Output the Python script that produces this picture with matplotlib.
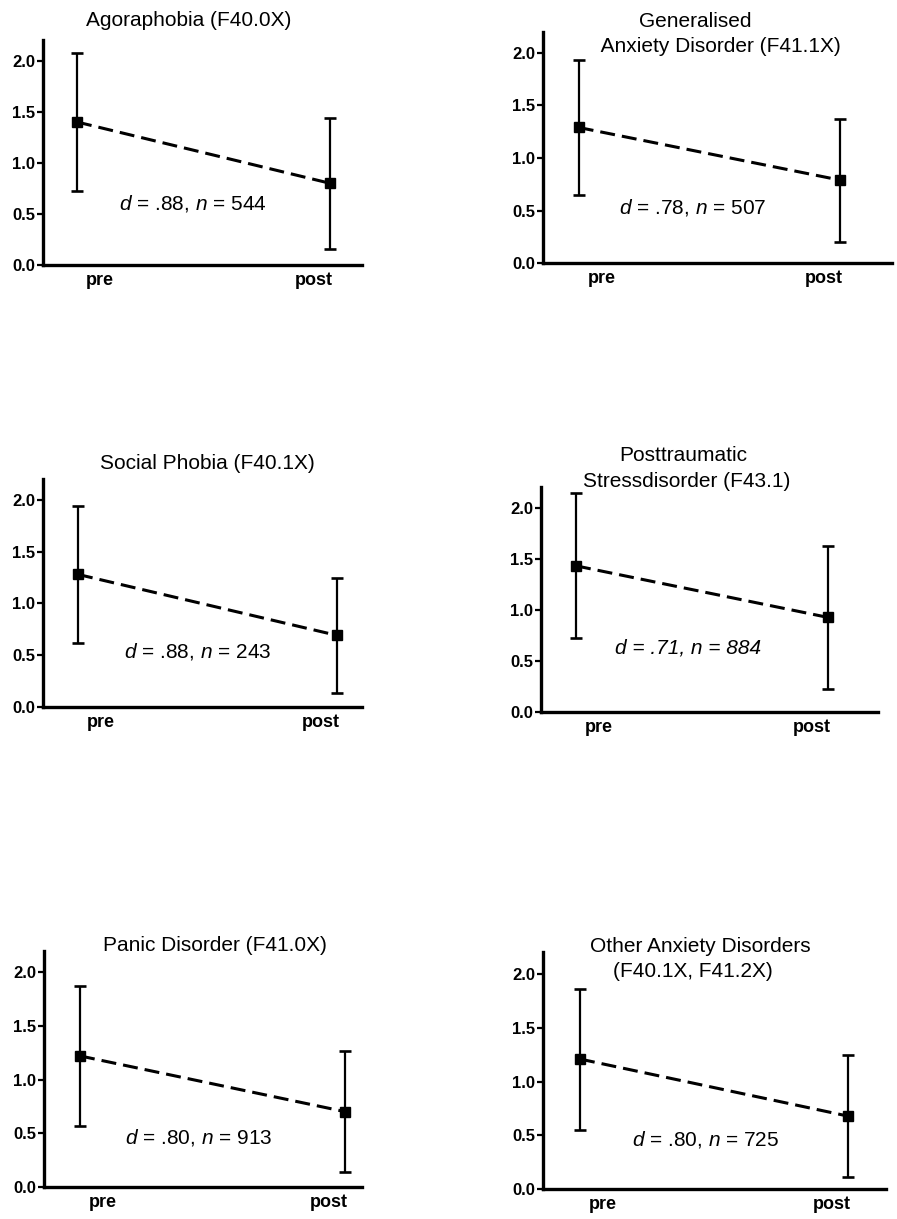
import matplotlib
matplotlib.use("Agg")
import matplotlib.pyplot as plt

# ---------------- data ----------------
titles = [
    ["Agoraphobia (F40.0X)"],
    ["Generalised", " Anxiety Disorder (F41.1X)"],
    ["Social Phobia (F40.1X)"],
    ["Posttraumatic", "Stressdisorder (F43.1)"],
    ["Panic Disorder (F41.0X)"],
    ["Other Anxiety Disorders", "(F40.1X, F41.2X)"],
]
time_labels = ["pre", "post"]
pre_means = [1.40, 1.29, 1.28, 1.43, 1.22, 1.21]
post_means = [0.80, 0.79, 0.69, 0.925, 0.70, 0.68]
pre_sd = [0.68, 0.64, 0.665, 0.71, 0.65, 0.655]
post_sd = [0.64, 0.585, 0.56, 0.70, 0.565, 0.565]
d_values = [".88", ".78", ".88", ".71", ".80", ".80"]
n_values = ["544", "507", "243", "884", "913", "725"]
all_italic = [False, False, False, True, False, False]
yticks = [0.0, 0.5, 1.0, 1.5, 2.0]

# ---------------- layout (pixels) ----------------
W, H = 897, 1219
# left, right, bottom(y=0), y2 (pixel of y=2.0), pre_px, post_px
boxes = [
    (43, 362, 265.0, 60.7, 77, 330),
    (543, 892, 263.3, 52.7, 578.7, 840),
    (43, 362, 706.7, 500.0, 78, 337),
    (541, 878, 711.7, 507.7, 576, 827.7),
    (44, 362, 1186.7, 972.3, 80, 345),
    (543, 886, 1189.3, 974.0, 580, 848),
]
# title lines: (center x, baseline y) per line
title_pos = [
    [(189, 26)],
    [(695, 26.7), (718, 51.7)],
    [(207, 469.3)],
    [(683, 460.7), (687, 486.7)],
    [(215, 951)],
    [(700, 951.7), (693, 977.3)],
]
annot_pos = [(193, 209.5), (693, 214), (198, 657.3), (688, 654), (199, 1144), (706, 1145)]
YTOP = 2.2

plt.rcParams["font.family"] = ["Liberation Sans", "DejaVu Sans"]
plt.rcParams["mathtext.fontset"] = "custom"
plt.rcParams["mathtext.rm"] = "Liberation Sans"
plt.rcParams["mathtext.it"] = "Liberation Sans:italic"

fig = plt.figure(figsize=(W / 100, H / 100), dpi=100)

for i in range(6):
    left, right, bot, y2, px0, px1 = boxes[i]
    ppy = (bot - y2) / 2.0
    top = bot - YTOP * ppy
    ax = fig.add_axes([left / W, 1 - bot / H, (right - left) / W, (bot - top) / H])
    ppx = px1 - px0
    ax.set_xlim((left - px0) / ppx, (right - px0) / ppx)
    ax.set_ylim(0, YTOP)

    xs = [0, 1]
    means = [pre_means[i], post_means[i]]
    sds = [pre_sd[i], post_sd[i]]
    ax.plot(xs, means, color="black", lw=2.2, dashes=(4.9, 2.3), zorder=2, clip_on=False)
    ax.errorbar(xs, means, yerr=sds, fmt="s", color="black", ms=7, elinewidth=1.6,
                capsize=4, capthick=1.9, zorder=3, clip_on=False)

    for s in ["top", "right"]:
        ax.spines[s].set_visible(False)
    for s in ["left", "bottom"]:
        ax.spines[s].set_linewidth(2.4)
    ax.set_yticks(yticks)
    ax.set_yticklabels([f"{v:.1f}" for v in yticks], fontsize=12, fontweight="bold")
    ax.tick_params(axis="y", length=4.5, width=1.6, pad=1)
    ax.set_xticks([23 / ppx, 1 - 16 / ppx])
    ax.set_xticklabels(time_labels, fontsize=13, fontweight="bold")
    ax.tick_params(axis="x", length=0, pad=5)

    for line, (cx, by) in zip(titles[i], title_pos[i]):
        fig.text(cx / W, 1 - by / H, line, ha="center", va="baseline", fontsize=15)

    ax_x, ax_y = annot_pos[i]
    if all_italic[i]:
        txt = f"d = {d_values[i]}, n = {n_values[i]}"
        fig.text(ax_x / W, 1 - ax_y / H, txt, ha="center", va="baseline",
                 fontsize=15, style="italic")
    else:
        txt = r"$d$ = " + d_values[i] + r", $n$ = " + n_values[i]
        fig.text(ax_x / W, 1 - ax_y / H, txt, ha="center", va="baseline", fontsize=15)

fig.savefig("out.png", dpi=100)
